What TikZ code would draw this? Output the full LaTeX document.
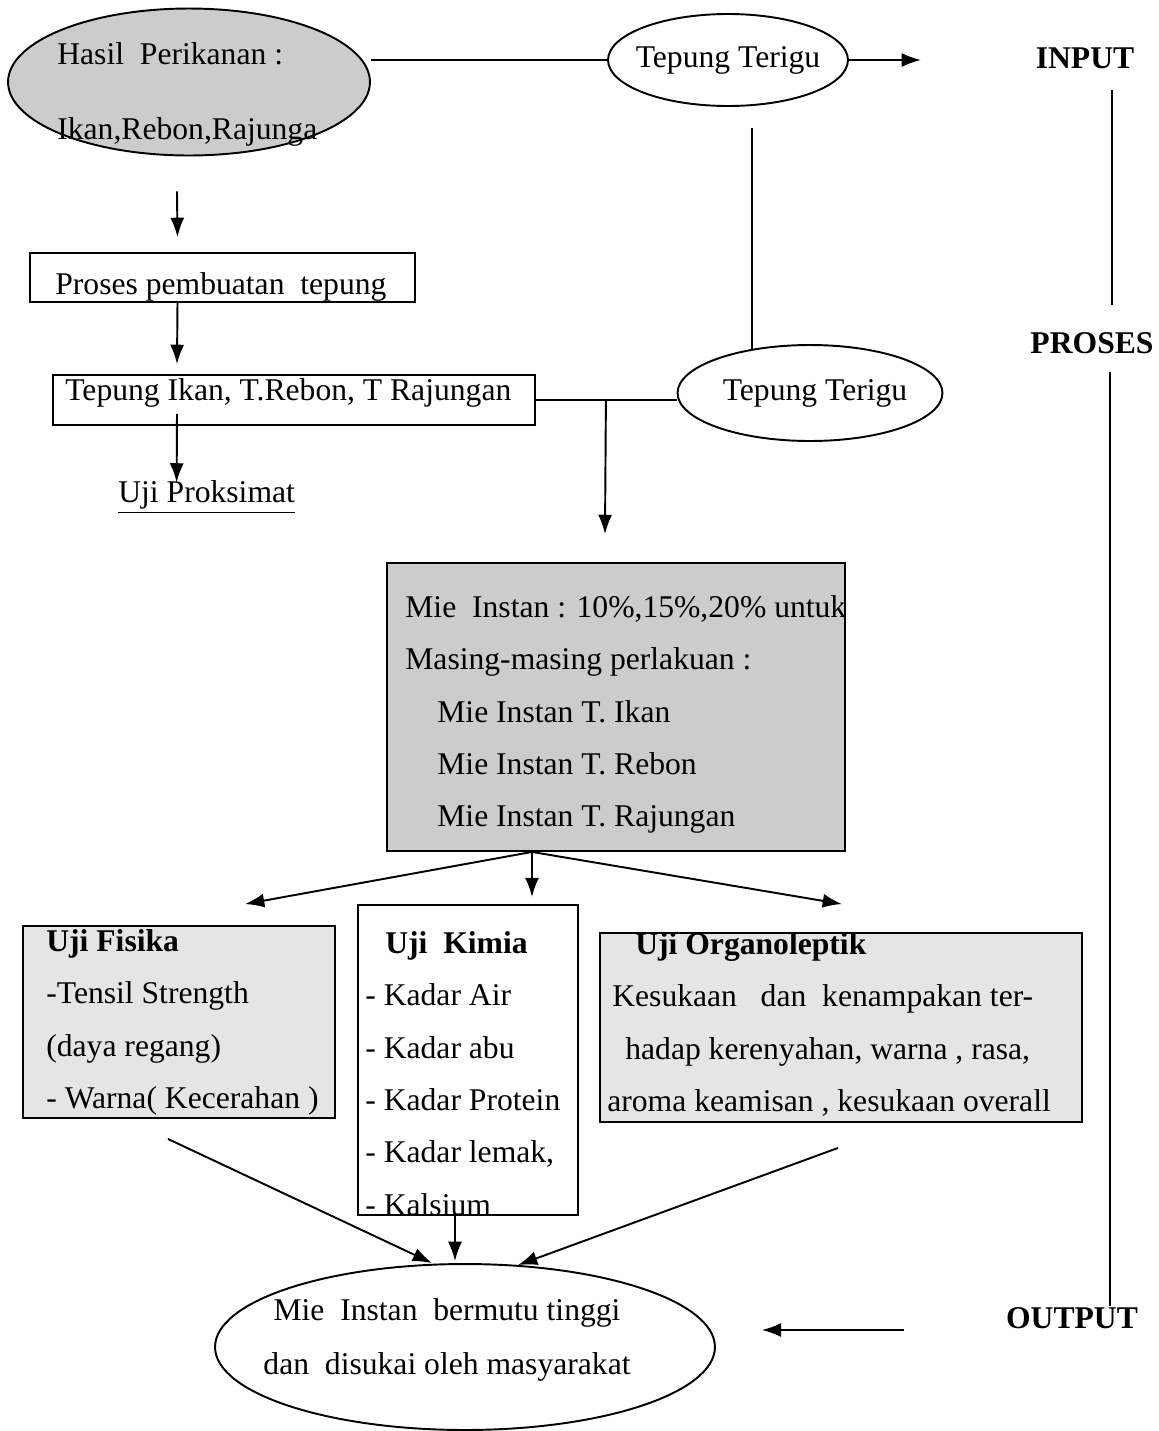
\documentclass[tikz,border=0pt]{standalone}
\usepackage{fontspec}
\setmainfont{Liberation Serif}
\usetikzlibrary{shapes.geometric,arrows.meta}

\tikzset{
  kotak/.style={draw, line width=1.1pt, inner sep=0pt},
  elips/.style={draw, ellipse, line width=1.1pt, inner sep=0pt},
  teks/.style={font=\fontsize{18}{29.8}\selectfont, align=left, inner sep=0pt},
  judul/.style={font=\fontsize{18}{22}\selectfont\bfseries, inner sep=0pt},
  garis/.style={line width=1.1pt},
  panah/.style={line width=1.1pt, -{Latex[length=11pt,width=8pt]}},
  arsir/.style={fill=gray!40},
  arsirtipis/.style={fill=gray!20}
}

\begin{document}
\begin{tikzpicture}[x=0.02cm, y=-0.02cm]
  \useasboundingbox (0,0) rectangle (1159,1431);

  % Bahan baku
  \node[elips, arsir, minimum width=7.24cm, minimum height=2.94cm] (hasil) at (189,82) {};
  \node[teks, anchor=north west] (hasilteks) at (57,42)
    {Hasil\ \ Perikanan :\\[13pt]Ikan,Rebon,Rajunga};
  \node[elips, minimum width=4.8cm, minimum height=1.84cm] (tt1) at (728,60) {};
  \node[teks] (tt1teks) at (tt1) {Tepung Terigu};

  % Proses tepung
  \node[kotak, minimum width=7.7cm, minimum height=0.98cm] (proses) at (222.5,277.5) {};
  \node[teks, anchor=west] (prosesteks) at (55,287) {Proses pembuatan\ \ tepung};
  \node[kotak, minimum width=9.64cm, minimum height=1cm] (tepung) at (294,400) {};
  \node[teks, anchor=west] (tepungteks) at (65,393) {Tepung Ikan, T.Rebon, T Rajungan};
  \node[teks, anchor=west] (proksimat) at (118,497) {\underline{Uji Proksimat}};
  \node[elips, minimum width=5.3cm, minimum height=1.92cm] (tt2) at (810,393) {};
  \node[teks] (tt2teks) at ([xshift=0.1cm]tt2) {Tepung Terigu};

  % Mie instan
  \node[kotak, arsir, minimum width=9.16cm, minimum height=5.76cm] (mie) at (616,707) {};
  \node[teks, anchor=north west] (mieteks) at (405,595)
    {Mie\ \ Instan : 10\%,15\%,20\% untuk\\
     Masing-masing perlakuan :\\
     \hspace*{0.64cm}Mie Instan T. Ikan\\
     \hspace*{0.64cm}Mie Instan T. Rebon\\
     \hspace*{0.64cm}Mie Instan T. Rajungan};

  % Pengujian
  \node[kotak, arsirtipis, minimum width=6.24cm, minimum height=3.84cm] (fisika) at (179,1022) {};
  \node[teks, anchor=north west] (fisikateks) at (46,929)
    {\textbf{Uji Fisika}\\-Tensil Strength\\(daya regang)\\- Warna( Kecerahan )};
  \node[kotak, minimum width=4.4cm, minimum height=6.2cm] (kimia) at (468,1060) {};
  \node[teks, anchor=north west] (kimiateks) at (365,931)
    {\hspace*{0.4cm}\textbf{Uji\ \ Kimia}\\- Kadar Air\\- Kadar abu\\- Kadar Protein\\- Kadar lemak,\\- Kalsium};
  \node[kotak, arsirtipis, minimum width=9.64cm, minimum height=3.78cm] (organo) at (841,1027.5) {};
  \node[teks, anchor=north west] (organoteks) at (607,932)
    {\hspace*{0.56cm}\textbf{Uji Organoleptik}\\
     \hspace*{0.1cm}Kesukaan\ \ \ dan\ \ kenampakan ter-\\
     \hspace*{0.36cm}hadap kerenyahan, warna , rasa,\\
     aroma keamisan , kesukaan overall};

  % Hasil akhir
  \node[elips, minimum width=10cm, minimum height=3.32cm] (akhir) at (465,1347) {};
  \node[teks, align=center, font=\fontsize{18}{31}\selectfont] (akhirteks) at (447,1340)
    {Mie\ \ Instan\ \ bermutu tinggi\\dan\ \ disukai oleh masyarakat};

  % Tahapan
  \node[judul] (input) at (1085,58) {INPUT};
  \node[judul] (tahap) at (1092,343) {PROSES};
  \node[judul] (output) at (1072,1318) {OUTPUT};
  \draw[garis] ([shift={(27,32)}]input.center) -- ([shift={(20,-38)}]tahap.center);
  \draw[garis] ([shift={(18,29)}]tahap.center) -- ([shift={(38,-12)}]output.center);
  \draw[panah] ([shift={(-102,12)}]output.west) -- ++(-142,0);

  % Alur atas
  \draw[garis] (tt1.west) -- (hasil.east |- tt1.west);
  \draw[panah] (tt1.east) -- ++(72,0);
  \draw[garis] ([shift={(24,21)}]tt1.south) -- ([shift={(-58,-43)}]tt2.center);
  \draw[panah] ([shift={(-12,35)}]hasil.south) -- ([shift={(-45,-15)}]proses.north);
  \draw[panah] ([shift={(-45,0)}]proses.south) -- ([shift={(-117,-10)}]tepung.north);
  \draw[panah] ([shift={(-117,-12)}]tepung.south) -- ([shift={(-30,2)}]proksimat.north);
  \draw[garis] (tepung.east) -- (tepung.east -| tt2.west);
  \draw[panah] ([shift={(70,0)}]tepung.east) -- ([shift={(-11,-28)}]mie.north);

  % Cabang uji
  \coordinate (bawahmie) at ([shift={(-84,0)}]mie.south);
  \draw[panah] (bawahmie) -- ([shift={(66,-21)}]fisika.north);
  \draw[panah] (bawahmie) -- ([shift={(64,-7)}]kimia.north);
  \draw[panah] (bawahmie) -- ([shift={(1,-28)}]organo.north);

  % Menuju hasil akhir
  \draw[panah] ([shift={(-11,20)}]fisika.south) -- ([shift={(-33,0)}]akhir.north);
  \draw[panah] ([shift={(-13,0)}]kimia.south) -- ([shift={(-10,-2)}]akhir.north);
  \draw[panah] ([shift={(-3,25)}]organo.south) -- ([shift={(53,2)}]akhir.north);
\end{tikzpicture}
\end{document}
